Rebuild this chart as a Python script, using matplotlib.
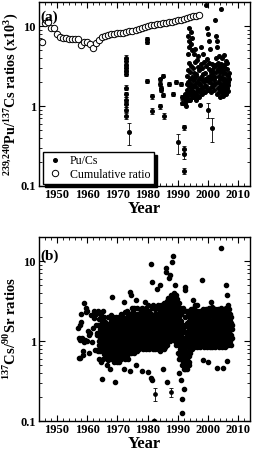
import numpy as np
import matplotlib
matplotlib.use("Agg")
import matplotlib.pyplot as plt
from matplotlib.ticker import FixedLocator, MultipleLocator, NullFormatter

plt.rcParams['font.family'] = ['Liberation Serif', 'DejaVu Serif']
plt.rcParams['font.weight'] = 'bold'
plt.rcParams['mathtext.fontset'] = 'custom'
plt.rcParams['mathtext.rm'] = 'Liberation Serif'
plt.rcParams['mathtext.bf'] = 'Liberation Serif:bold'

# (a) cumulative Pu/Cs ratio (x10^3), one value per year
cum_years = list(range(1945, 1998))
cum_ratio = [6.3, 10.8, 11.3, 9.5, 9.5, 7.9, 7.4, 7.0, 7.0, 6.9, 6.9, 6.9, 6.9, 5.8,
             6.3, 6.3, 5.9, 5.3, 6.1, 6.7, 7.2, 7.6, 7.8, 7.9, 8.0, 8.1, 8.2, 8.3,
             8.4, 8.6, 8.7, 9.0, 9.2, 9.5, 9.8, 10.0, 10.2, 10.3, 10.5, 10.6, 10.8,
             11.0, 11.2, 11.4, 11.6, 11.8, 12.0, 12.3, 12.6, 12.9, 13.2, 13.5, 13.8]

# (a) Pu/Cs single samples with error bars
pu_years = [1972.9] * 12 + [1974.0, 1979.7, 1979.7, 1979.9, 1981.3, 1981.3,
            1984.1, 1984.2, 1984.3, 1984.4, 1984.2, 1985.2, 1985.2, 1985.3,
            1987.2, 1988.4, 1989.5, 1990.1, 1991.2, 1991.3, 1991.4,
            1992.0, 1992.1, 1992.1, 1992.2, 2000.1, 2001.4]
pu_ratio = [4.0, 3.65, 3.3, 3.0, 2.75, 2.5, 1.7, 1.4, 1.2, 1.05, 0.9, 0.75,
            0.47, 6.8, 6.3, 2.05, 1.33, 0.87,
            2.15, 1.9, 1.7, 1.6, 1.0, 2.4, 1.36, 0.75,
            1.87, 1.4, 2.0, 0.35, 1.9, 1.3, 1.1,
            0.54, 0.29, 0.25, 0.155, 0.9, 0.53]
pu_err = [0.3, 0.25, 0.2, 0.2, 0.2, 0.15, 0.12, 0.1, 0.08, 0.08, 0.07, 0.06,
          0.14, 0.4, 0.4, 0.1, 0.1, 0.08,
          0.1, 0.1, 0.1, 0.1, 0.07, 0.1, 0.08, 0.06,
          0.1, 0.08, 0.1, 0.1, 0.1, 0.08, 0.08,
          0.04, 0.03, 0.03, 0.015, 0.2, 0.17]

# (a) Pu/Cs dense period, samples per year
pu_dense_years = list(range(1992, 2007))
pu_dense = [
    [1.1, 1.25, 1.05, 1.4, 1.0, 1.3, 1.15, 1.9],
    [1.3, 2.4, 1.6, 4.5, 2.0, 7.5, 1.5, 2.8, 9.5, 1.8, 6.5, 1.2, 3.5, 5.5, 1.4, 2.2],
    [1.2, 2.7, 1.4, 6.0, 1.9, 3.2, 1.6, 8.5, 2.3, 1.3, 7.0, 1.7, 5.0, 2.1, 1.5],
    [1.3, 3.0, 1.5, 2.2, 4.5, 1.8, 2.6, 1.4, 5.2, 1.9, 3.6, 2.4, 1.25],
    [1.2, 2.5, 1.5, 3.8, 1.7, 2.0, 4.2, 1.35, 3.1, 1.6, 2.2, 1.9],
    [1.3, 2.8, 1.6, 1.02, 1.9, 3.4, 2.3, 1.45, 5.5, 1.75, 2.1],
    [1.4, 3.0, 1.7, 2.5, 4.5, 2.0, 1.5, 3.6, 1.8, 2.2],
    [1.5, 2.6, 18.6, 1.8, 3.2, 9.5, 2.1, 3.9, 1.6, 8.0, 2.3],
    [1.6, 2.9, 2.0, 6.5, 3.5, 2.4, 1.7, 5.2, 2.2, 2.7],
    [1.5, 2.8, 1.9, 3.4, 2.3, 1.8, 2.6, 2.1, 3.1],
    [1.6, 3.3, 1.9, 12.0, 2.3, 7.5, 2.7, 4.0, 6.5, 5.5],
    [1.4, 2.9, 1.7, 3.5, 2.0, 4.2, 2.4, 1.5, 3.2, 1.8, 2.7, 2.2],
    [1.3, 2.8, 1.6, 3.4, 1.9, 16.4, 2.3, 4.0, 1.45, 3.1, 1.75, 2.6, 2.1],
    [1.35, 2.7, 1.6, 3.3, 1.9, 4.4, 2.2, 1.5, 3.0, 1.75, 3.7, 2.05, 2.5],
    [1.4, 2.9, 1.7, 3.5, 2.0, 1.55, 2.4, 1.85, 2.6, 2.2],
]

# (b) 137Cs/90Sr ratios, samples per year
sr_years = list(range(1957, 2008))
sr_vals = [
    [1.47, 0.62, 1.08, 1.58, 0.62, 1.03, 2.15],
    [1.74, 1.08, 0.75, 0.67, 0.98],
    [2.96, 1.03, 2.56, 2.28, 1.0],
    [2.37, 1.33, 0.7, 1.19, 1.25],
    [2.1, 0.98, 1.45],
    [2.37, 1.92, 0.78, 1.58],
    [2.2, 1.25, 0.77, 1.2, 2.4, 0.74, 1.6, 1.0, 0.9],
    [1.9, 0.6, 1.3, 1.1, 0.85, 1.6, 0.75, 1.4, 0.95, 1.2, 0.55, 2.1, 1.0, 0.8, 1.7, 1.05, 0.9, 1.25],
    [0.34, 1.8, 0.9, 1.2, 0.6, 1.5, 1.0, 2.4, 0.75, 1.35, 0.68, 1.1, 0.85, 2.0, 0.95, 1.6, 0.7, 1.15, 1.3, 0.8],
    [1.75, 0.7, 1.2, 0.9, 1.4, 0.62, 1.0, 0.8, 0.5, 1.3, 0.95, 1.1, 0.85, 1.55, 0.65, 0.75, 1.05, 1.25, 0.58, 2.0],
    [0.6, 1.1, 0.8, 1.5, 0.9, 1.2, 0.7, 1.35, 1.0, 1.7, 0.65, 0.45, 0.85, 1.15, 0.95, 1.05, 0.75, 1.3, 1.9, 2.1],
    [0.7, 1.3, 0.9, 3.6, 1.1, 0.6, 1.5, 0.8, 1.2, 2.0, 0.65, 1.0, 1.4, 0.75, 1.7, 0.95, 0.55, 1.25, 0.85, 1.05],
    [1.2, 0.31, 0.8, 1.5, 0.6, 1.0, 1.8, 0.7, 1.3, 0.9, 2.0, 1.1, 0.65, 1.4, 0.85, 1.15, 0.75, 1.6, 0.95, 0.55],
    [0.9, 1.4, 0.65, 1.1, 1.9, 0.8, 1.25, 0.55, 1.6, 1.0, 0.7, 1.3, 2.0, 0.85, 1.15, 0.6, 1.5, 0.95, 1.05, 1.75],
    [1.0, 0.6, 1.5, 0.8, 2.2, 1.2, 0.7, 1.35, 0.9, 1.8, 1.1, 0.65, 1.6, 0.85, 1.25, 2.0, 0.75, 1.05, 1.4, 0.95],
    [1.3, 0.45, 0.9, 3.1, 1.1, 0.7, 1.6, 0.8, 2.3, 1.0, 1.4, 0.6, 1.9, 1.2, 0.75, 1.7, 0.95, 1.5, 0.85, 1.05],
    [0.8, 1.6, 1.1, 0.65, 2.4, 1.3, 0.9, 1.9, 0.7, 1.45, 1.0, 2.1, 0.6, 1.2, 1.7, 0.85, 1.35, 0.75, 1.05, 1.55],
    [1.2, 4.1, 0.8, 1.6, 0.42, 1.0, 2.2, 0.7, 1.4, 3.8, 0.9, 1.8, 1.1, 2.6, 0.75, 1.3, 0.85, 1.5, 2.0, 0.95],
    [0.9, 1.5, 2.4, 0.75, 1.2, 1.8, 0.85, 2.6, 1.0, 1.35, 0.7, 2.1, 1.1, 1.65, 0.8, 1.25, 1.9, 0.95, 1.45, 1.05],
    [1.1, 0.5, 1.7, 0.8, 3.25, 1.3, 0.9, 2.2, 1.0, 1.5, 0.75, 2.6, 1.2, 0.85, 1.9, 1.4, 0.95, 1.6, 1.05, 2.0],
    [1.4, 0.85, 2.0, 1.1, 0.8, 1.7, 1.25, 2.5, 0.9, 1.5, 1.0, 2.2, 1.3, 0.95, 1.8, 1.15, 1.6, 1.05, 2.35, 1.35],
    [1.2, 2.6, 0.85, 1.5, 0.42, 1.0, 1.9, 1.3, 0.8, 2.2, 1.1, 1.6, 0.9, 1.4, 2.0, 1.05, 1.75, 0.95, 1.25, 2.4],
    [1.6, 1.0, 2.3, 0.85, 1.3, 3.1, 1.1, 1.8, 0.8, 2.6, 1.4, 0.95, 2.0, 1.2, 1.7, 0.9, 1.5, 2.2, 1.05, 1.35],
    [0.41, 1.2, 2.1, 0.9, 1.6, 2.8, 1.0, 1.4, 0.8, 2.4, 1.1, 1.8, 0.85, 1.3, 2.0, 0.95, 1.5, 1.05, 1.7, 1.25],
    [9.1, 1.4, 0.35, 2.2, 1.0, 1.7, 0.85, 5.5, 1.2, 2.6, 0.9, 1.5, 0.33, 2.0, 1.1, 2.8, 0.8, 1.3, 1.8, 0.95, 1.6],
    [1.3, 0.1, 2.0, 0.9, 1.6, 1.1, 2.5, 0.8, 1.4, 1.0, 2.2, 0.85, 1.8, 1.2, 0.95, 1.5, 2.6, 1.05, 1.7, 1.25],
    [1.5, 0.9, 4.5, 1.2, 2.2, 0.8, 1.7, 2.8, 1.0, 1.4, 0.85, 2.0, 1.1, 1.6, 2.5, 0.95, 1.3, 1.9, 1.05, 2.4],
    [1.2, 5.0, 0.75, 1.8, 1.0, 2.6, 1.4, 0.9, 2.1, 1.1, 2.8, 0.8, 1.6, 1.3, 2.3, 0.95, 1.7, 1.05, 1.5, 2.0],
    [1.4, 0.9, 2.2, 0.45, 1.7, 3.0, 1.1, 1.5, 0.8, 2.5, 1.2, 1.9, 1.0, 2.7, 1.3, 0.85, 1.6, 2.0, 1.05, 2.3],
    [8.2, 1.5, 2.6, 1.0, 7.4, 1.9, 0.31, 3.2, 1.2, 2.2, 0.9, 1.7, 3.5, 1.3, 2.0, 1.1, 2.9, 1.6, 2.4, 1.4],
    [1.8, 6.1, 2.6, 1.2, 3.4, 6.7, 1.5, 2.2, 1.0, 3.0, 1.7, 2.4, 1.3, 3.8, 2.0, 1.1, 2.8, 1.6, 3.2, 1.4],
    [2.2, 1.4, 9.8, 3.0, 1.1, 2.5, 11.6, 1.7, 3.6, 1.3, 2.0, 4.0, 1.5, 2.8, 1.2, 3.3, 1.9, 2.4, 1.0, 1.6],
    [1.9, 3.2, 1.2, 5.0, 2.4, 1.0, 3.8, 1.5, 2.8, 0.9, 2.1, 1.3, 3.4, 1.7, 2.6, 1.1, 2.0, 1.4, 3.0, 1.6],
    [1.5, 0.7, 2.4, 1.1, 0.4, 1.8, 0.9, 3.0, 1.3, 0.6, 2.0, 1.0, 1.6, 0.8, 2.6, 1.2, 0.65, 1.4, 0.75, 2.2],
    [1.2, 0.33, 0.6, 1.8, 0.19, 0.9, 0.125, 1.4, 0.5, 2.3, 0.7, 1.1, 0.55, 1.6, 0.8, 2.6, 0.65, 1.0, 0.45, 1.3],
    [0.5, 1.5, 0.25, 0.8, 4.7, 0.45, 1.1, 2.0, 0.6, 4.3, 0.9, 1.3, 0.55, 2.4, 0.7, 1.0, 0.48, 1.7, 0.65, 1.2],
    [0.9, 0.45, 1.6, 0.6, 2.2, 1.1, 0.5, 1.3, 0.75, 2.4, 0.55, 1.0, 1.8, 0.65, 1.4, 0.85, 0.5, 1.2, 0.7, 2.0],
    [1.3, 0.85, 2.0, 1.0, 1.6, 2.5, 0.9, 1.2, 1.8, 1.05, 2.2, 0.8, 1.4, 1.1, 1.7, 0.95, 2.4, 1.25, 1.5, 1.35],
    [1.5, 1.0, 3.25, 1.3, 2.1, 0.85, 1.7, 1.1, 2.6, 1.4, 0.95, 1.9, 1.2, 2.8, 1.05, 1.6, 0.9, 2.3, 1.35, 1.8],
    [1.2, 2.0, 0.9, 1.5, 2.8, 1.1, 1.7, 0.85, 2.4, 1.3, 1.0, 1.9, 1.45, 2.2, 0.95, 1.6, 1.15, 2.1, 1.35, 1.05],
    [1.4, 0.9, 2.2, 1.2, 1.7, 1.0, 2.4, 1.5, 0.85, 1.9, 1.1, 1.6, 2.0, 1.3, 0.95, 1.8, 1.05, 2.3, 1.25, 1.45],
    [1.3, 5.8, 1.9, 1.0, 0.58, 1.6, 2.5, 1.1, 1.4, 0.9, 2.1, 1.2, 1.75, 0.85, 2.3, 1.5, 1.05, 1.85, 1.35, 2.0],
    [1.5, 1.0, 2.3, 1.2, 1.8, 0.9, 2.5, 1.4, 1.1, 2.0, 0.85, 1.6, 1.3, 2.2, 1.05, 1.7, 0.95, 1.9, 1.25, 1.45],
    [1.2, 0.55, 2.0, 1.6, 0.9, 2.6, 1.3, 1.0, 2.2, 1.45, 0.85, 1.8, 1.1, 2.4, 1.35, 0.95, 1.7, 1.15, 2.1, 1.5],
    [1.4, 3.1, 1.0, 2.1, 1.6, 0.85, 2.7, 1.2, 1.8, 0.95, 2.3, 1.5, 1.1, 2.0, 1.3, 0.9, 2.5, 1.7, 1.05, 1.35],
    [1.3, 2.2, 0.9, 1.7, 1.1, 2.5, 1.5, 0.85, 2.0, 1.2, 1.6, 1.0, 2.3, 1.4, 0.95, 1.8, 1.25, 2.1, 1.05, 1.55],
    [1.5, 0.46, 1.1, 2.3, 1.3, 0.9, 1.8, 2.5, 1.2, 1.6, 0.85, 2.0, 1.4, 1.0, 2.2, 1.25, 1.7, 0.95, 1.9, 1.35],
    [1.2, 2.4, 14.4, 1.6, 0.9, 2.0, 1.35, 1.0, 2.6, 1.5, 0.85, 1.8, 1.1, 2.2, 1.4, 0.95, 1.7, 1.25, 2.1, 1.05],
    [1.4, 0.46, 2.1, 1.1, 1.7, 0.9, 2.5, 1.3, 1.9, 1.0, 2.3, 1.5, 0.85, 1.8, 1.2, 2.6, 1.05, 1.6, 1.35, 2.0],
    [1.5, 5.0, 1.1, 2.2, 3.8, 1.3, 0.57, 1.8, 2.8, 1.0, 1.6, 2.4, 1.2, 0.9, 2.0, 1.4, 1.7, 1.05, 2.5, 1.25],
    [1.3, 1.8, 1.0, 2.2, 1.5, 0.9, 1.7, 1.2, 2.0, 1.4, 1.1, 1.6],
]

# (b) samples with error bars
sr_err_years = [1982.6, 1987.6]
sr_err_ratio = [0.22, 0.23]
sr_err = [0.04, 0.03]


def spread(years, groups):
    xs, ys = [], []
    for yr, vals in zip(years, groups):
        n = len(vals)
        for i, v in enumerate(vals):
            xs.append(yr + (i + 0.5) / n)
            ys.append(v)
    return np.array(xs), np.array(ys)


def style_axis(ax, top):
    ax.set_yscale('log')
    ax.set_xlim(1944, 2014)
    ax.set_ylim(0.1, top)
    ax.xaxis.set_major_locator(MultipleLocator(10))
    ax.xaxis.set_minor_locator(MultipleLocator(2))
    ax.yaxis.set_major_locator(FixedLocator([0.1, 1, 10]))
    ax.set_yticklabels(['0.1', '1', '10'])
    ax.yaxis.set_minor_locator(FixedLocator([k * 10.0 ** e for e in (-1, 0, 1) for k in range(2, 10)]))
    ax.yaxis.set_minor_formatter(NullFormatter())
    ax.tick_params(which='both', direction='in', top=True, right=True, labelsize=9, pad=2)
    ax.tick_params(which='major', length=4, width=0.8)
    ax.tick_params(which='minor', length=2, width=0.6)
    for lab in ax.get_xticklabels() + ax.get_yticklabels():
        lab.set_fontweight('bold')
    for s in ax.spines.values():
        s.set_linewidth(1.0)
    ax.set_xlabel('Year', fontsize=12, fontweight='bold', labelpad=0)


fig = plt.figure(figsize=(2.55, 4.51), dpi=100)
ax1 = fig.add_axes([0.152, 0.5876, 0.830, 0.4080])
ax2 = fig.add_axes([0.152, 0.0665, 0.830, 0.4080])

# panel (a)
ax1.errorbar(pu_years, pu_ratio, yerr=pu_err, fmt='o', color='black', ms=2.6,
             elinewidth=0.6, capsize=1.3, capthick=0.6, zorder=3)
dx, dy = spread(pu_dense_years, pu_dense)
ax1.plot(dx, dy, 'o', color='black', ms=2.6, zorder=3)
ax1.plot(cum_years, cum_ratio, 'o', mfc='white', mec='black', ms=4.6, mew=0.7, zorder=2)
style_axis(ax1, 20)
ax1.set_ylabel(r'$^{239{,}240}$Pu/$^{137}$Cs ratios (x10$^{3}$)', fontsize=10.2,
               fontweight='bold', labelpad=0)
ax1.text(0.006, 0.915, '(a)', transform=ax1.transAxes, fontsize=11, fontweight='bold',
         va='center')
h1, = ax1.plot([], [], 'o', color='black', ms=2.6)
h2, = ax1.plot([], [], 'o', mfc='white', mec='black', ms=4.6, mew=0.7)
leg = ax1.legend([h1, h2], ['Pu/Cs', 'Cumulative ratio'], loc='lower left',
                 bbox_to_anchor=(0.018, 0.01), fontsize=8.6, frameon=True, fancybox=False,
                 shadow={'color': 'black', 'alpha': 1}, handlelength=1.4,
                 handletextpad=0.6, borderpad=0.3, labelspacing=0.1, borderaxespad=0)
leg.get_frame().set_edgecolor('black')
leg.get_frame().set_linewidth(1.0)
for t in leg.get_texts():
    t.set_fontweight('normal')

# panel (b)
bx, by = spread(sr_years, sr_vals)
ax2.plot(bx, by, 'o', color='black', ms=3.0, zorder=3)
ax2.errorbar(sr_err_years, sr_err_ratio, yerr=sr_err, fmt='o', color='black', ms=2.4,
             elinewidth=0.6, capsize=1.3, capthick=0.6, zorder=3)
style_axis(ax2, 20)
ax2.set_ylabel(r'$^{137}$Cs/$^{90}$Sr ratios', fontsize=10.5, fontweight='bold', labelpad=1)
ax2.text(0.006, 0.893, '(b)', transform=ax2.transAxes, fontsize=11, fontweight='bold',
         va='center')

fig.savefig('out.png', dpi=100)
